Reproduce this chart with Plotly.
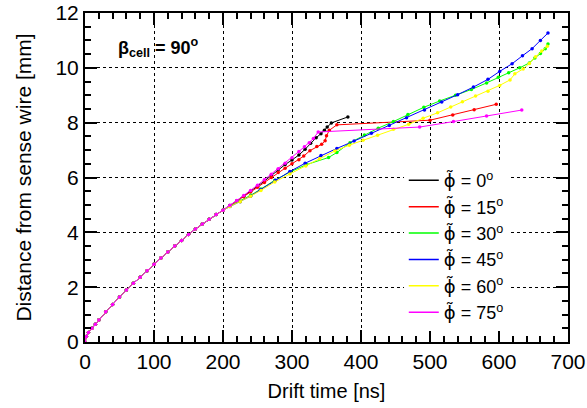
import plotly.graph_objects as go

# shared early part of all drift curves
base_t = [0, 2, 5, 10, 15, 20, 30, 40, 50, 60, 70, 80, 90, 100, 110, 120, 130, 140, 150, 160, 170, 180, 190, 200]
base_y = [0, 0.2, 0.35, 0.5, 0.65, 0.8, 1.1, 1.37, 1.64, 1.9, 2.14, 2.36, 2.6, 2.84, 3.06, 3.28, 3.5, 3.7, 3.92, 4.12, 4.3, 4.48, 4.65, 4.81]

t_0 = [210, 220, 230, 240, 250, 260, 270, 280, 290, 300, 310, 319, 327, 335, 342, 347, 351, 357, 381]
y_0 = [4.98, 5.15, 5.32, 5.5, 5.68, 5.87, 6.08, 6.28, 6.47, 6.64, 6.82, 7.03, 7.25, 7.45, 7.6, 7.72, 7.84, 7.99, 8.21]

t_15 = [210, 220, 230, 240, 250, 260, 270, 280, 290, 300, 310, 317, 326, 336, 343, 348, 350, 354, 365, 500, 533, 564, 596]
y_15 = [4.97, 5.13, 5.3, 5.47, 5.64, 5.82, 6.0, 6.18, 6.34, 6.5, 6.65, 6.78, 6.98, 7.13, 7.21, 7.34, 7.52, 7.72, 7.92, 8.09, 8.28, 8.47, 8.67]

t_30 = [210, 225, 240, 255, 275, 297, 321, 353, 365, 384, 405, 425, 447, 468, 491, 514, 537, 560, 582, 599, 614, 630, 644, 652, 660, 667, 671]
y_30 = [4.95, 5.14, 5.35, 5.58, 5.9, 6.2, 6.47, 6.73, 6.91, 7.27, 7.55, 7.8, 8.04, 8.3, 8.56, 8.79, 9.0, 9.21, 9.45, 9.66, 9.82, 10.0, 10.18, 10.36, 10.52, 10.7, 10.87]

t_45 = [210, 225, 240, 254, 276, 297, 319, 342, 365, 390, 415, 441, 466, 492, 517, 540, 563, 584, 601, 619, 634, 648, 660, 671]
y_45 = [4.94, 5.12, 5.32, 5.55, 5.9, 6.22, 6.52, 6.8, 7.06, 7.33, 7.61, 7.9, 8.18, 8.46, 8.75, 9.02, 9.3, 9.58, 9.87, 10.15, 10.44, 10.7, 11.0, 11.27]

t_60 = [210, 225, 240, 255, 275, 297, 320, 340, 362, 383, 403, 424, 447, 469, 490, 511, 530, 547, 566, 584, 601, 616, 623, 635, 644, 653, 662, 670]
y_60 = [4.94, 5.12, 5.32, 5.53, 5.84, 6.13, 6.42, 6.68, 6.97, 7.18, 7.36, 7.54, 7.76, 7.94, 8.16, 8.36, 8.57, 8.76, 8.97, 9.15, 9.36, 9.56, 9.78, 9.96, 10.16, 10.4, 10.61, 10.79]

t_75 = [210, 220, 230, 240, 250, 260, 270, 280, 290, 300, 310, 318, 325, 331, 338, 485, 534, 582, 633]
y_75 = [4.99, 5.16, 5.34, 5.53, 5.72, 5.92, 6.12, 6.32, 6.52, 6.72, 6.95, 7.12, 7.27, 7.42, 7.66, 7.84, 8.04, 8.24, 8.46]

PHI = "<span style='font-family:DejaVu Sans'>ϕ̃</span>"
series_names = [PHI + " = 0<sup>o</sup>", PHI + " = 15<sup>o</sup>", PHI + " = 30<sup>o</sup>",
                PHI + " = 45<sup>o</sup>", PHI + " = 60<sup>o</sup>", PHI + " = 75<sup>o</sup>"]
series_colors = ["#000000", "#ff0000", "#00ff00", "#0000ff", "#ffff00", "#ff00ff"]
series_t = [t_0, t_15, t_30, t_45, t_60, t_75]
series_y = [y_0, y_15, y_30, y_45, y_60, y_75]

x_ticks = [0, 100, 200, 300, 400, 500, 600, 700]
y_ticks = [0, 2, 4, 6, 8, 10, 12]

FONT = "Liberation Sans, Arial, Helvetica, sans-serif"

fig = go.Figure()
for name, col, tt, yy in zip(series_names, series_colors, series_t, series_y):
    fig.add_trace(go.Scatter(
        x=base_t + tt, y=base_y + yy, mode="lines+markers",
        line=dict(color=col, width=1), marker=dict(color=col, size=3.5),
        showlegend=False, hoverinfo="skip"))
for name, col in zip(series_names, series_colors):
    fig.add_trace(go.Scatter(
        x=[None], y=[None], mode="lines", name=name,
        line=dict(color=col, width=1.5), showlegend=True))

axis_common = dict(
    showline=True, linecolor="black", linewidth=2, mirror="ticks",
    ticks="inside", tickcolor="black", tickwidth=1.5, ticklen=12,
    showgrid=True, gridcolor="black", griddash="dot", gridwidth=1,
    zeroline=False, tickfont=dict(family=FONT, size=21, color="black"),
    automargin=False,
)

fig.update_xaxes(
    range=[0, 700], tickvals=x_ticks, ticktext=[str(v) for v in x_ticks],
    minor=dict(dtick=20, tick0=0, ticks="inside", ticklen=6, tickcolor="black", tickwidth=1.5, showgrid=False),
    title=dict(text="Drift time [ns]", font=dict(family=FONT, size=20, color="black"), standoff=12),
    **axis_common)
fig.update_yaxes(
    range=[0, 12], tickvals=y_ticks, ticktext=[str(v) for v in y_ticks],
    minor=dict(dtick=0.5, tick0=0, ticks="inside", ticklen=6, tickcolor="black", tickwidth=1.5, showgrid=False),
    title=dict(text="Distance from sense wire [mm]", font=dict(family=FONT, size=21, color="black"), standoff=18),
    **axis_common)

fig.add_annotation(
    x=45, y=10.75, xref="x", yref="y", xanchor="left", yanchor="middle",
    text="<b>β<sub>cell</sub> = 90<sup>o</sup></b>", showarrow=False,
    font=dict(family=FONT, size=18, color="black"))

fig.update_layout(
    width=587, height=408,
    margin=dict(l=85, r=19, t=13, b=66),
    paper_bgcolor="white", plot_bgcolor="white",
    font=dict(family=FONT, color="black"),
    legend=dict(x=0.66, y=0.547, xanchor="left", yanchor="top",
                bgcolor="rgba(255,255,255,1)", borderwidth=0,
                font=dict(family=FONT, size=18, color="black"),
                tracegroupgap=0, itemwidth=30),
)

fig.write_html("out.html", config={"displayModeBar": False},
               post_script="document.body.style.margin='0';")
